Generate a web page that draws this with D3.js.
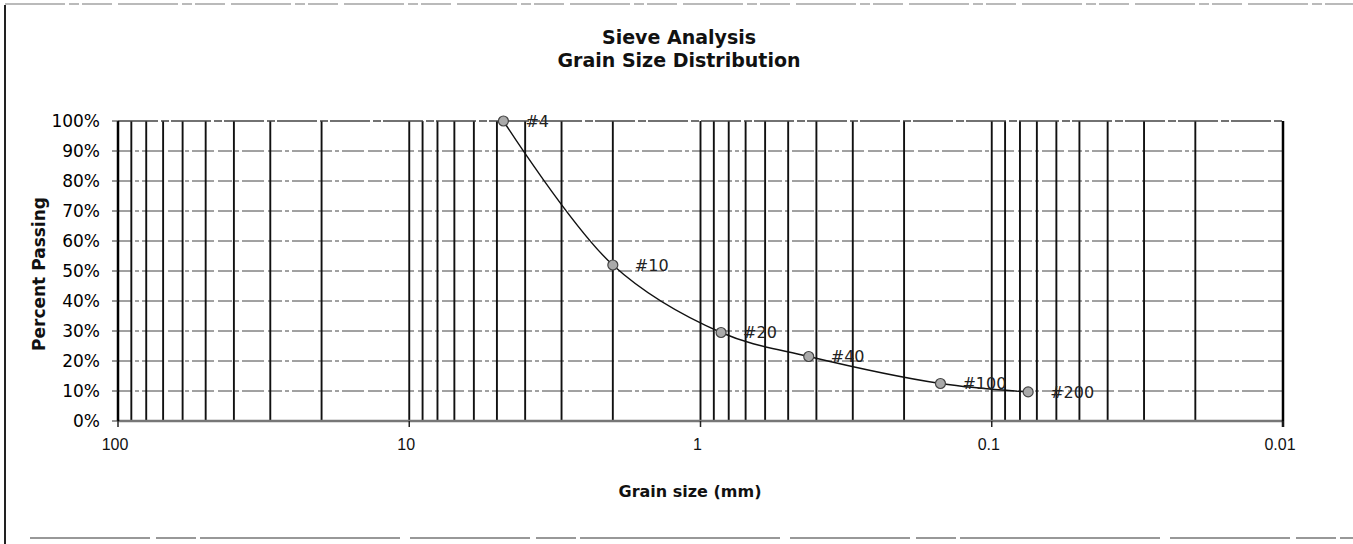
<!DOCTYPE html>
<html>
<head>
<meta charset="utf-8">
<script src="https://cdn.jsdelivr.net/npm/d3@7"></script>
<style>
  html, body { margin: 0; padding: 0; background: #fff; }
  svg { display: block; }
</style>
</head>
<body>
<svg id="chart" width="1353" height="544"></svg>
<script>
// ---- data ----
const sieves = ["#4", "#10", "#20", "#40", "#100", "#200"];
const grainSizes = [4.75, 2.0, 0.85, 0.425, 0.15, 0.075];
const percentPassing = [1.00, 0.52, 0.295, 0.215, 0.125, 0.097];
const xTickValues = [100, 10, 1, 0.1, 0.01];
const xTickLabels = ["100", "10", "1", "0.1", "0.01"];
const yTickValues = [0, 0.1, 0.2, 0.3, 0.4, 0.5, 0.6, 0.7, 0.8, 0.9, 1.0];
const titleLines = ["Sieve Analysis", "Grain Size Distribution"];
const xTitle = "Grain size (mm)";
const yTitle = "Percent Passing";

(function () {
// ---- layout ----
const svg = d3.select("#chart");
const pL = 118, pR = 1283, pT = 121, pB = 421;

const x = d3.scaleLog().domain([100, 0.01]).range([pL, pR]);
const y = d3.scaleLinear().domain([0, 1]).range([pB, pT]);

// outer frame (scanned page edges)
svg.append("line").attr("x1", 5).attr("x2", 5).attr("y1", 5).attr("y2", 544)
  .attr("stroke", "#222").attr("stroke-width", 2);
svg.append("line").attr("x1", 5).attr("x2", 1353).attr("y1", 4).attr("y2", 4)
  .attr("stroke", "#777").attr("stroke-width", 1.2).attr("stroke-dasharray", "60,4,10,3,30,6");
svg.append("line").attr("x1", 30).attr("x2", 1353).attr("y1", 538).attr("y2", 538)
  .attr("stroke", "#777").attr("stroke-width", 1.5).attr("stroke-dasharray", "120,6,40,4,200,10");

// horizontal gridlines (dashed)
svg.append("g").selectAll("line").data(yTickValues.filter(v => v > 0 && v < 1)).join("line")
  .attr("x1", pL).attr("x2", pR)
  .attr("y1", d => y(d)).attr("y2", d => y(d))
  .attr("stroke", "#444").attr("stroke-width", 1)
  .attr("stroke-dasharray", "14,3,4,3,22,4");

// vertical gridlines: all log minor/major values
const vGrid = x.ticks().filter(v => v > 0.01 && v < 100);
svg.append("g").selectAll("line").data(vGrid).join("line")
  .attr("x1", d => x(d)).attr("x2", d => x(d))
  .attr("y1", pT).attr("y2", pB)
  .attr("stroke", "#111").attr("stroke-width", 1.9);

// top line (100%)
svg.append("line").attr("x1", pL).attr("x2", pR).attr("y1", pT).attr("y2", pT)
  .attr("stroke", "#444").attr("stroke-width", 1.4).attr("stroke-dasharray", "40,3,8,2");
// bottom axis line (0%)
svg.append("line").attr("x1", pL).attr("x2", pR).attr("y1", pB).attr("y2", pB)
  .attr("stroke", "#777").attr("stroke-width", 2.5);
// left & right borders
svg.append("line").attr("x1", pL).attr("x2", pL).attr("y1", pT).attr("y2", pB)
  .attr("stroke", "#000").attr("stroke-width", 2.5);
svg.append("line").attr("x1", pR).attr("x2", pR).attr("y1", pT).attr("y2", pB + 6)
  .attr("stroke", "#000").attr("stroke-width", 2.5);

// y axis ticks & labels
const yAxis = svg.append("g");
yAxis.selectAll("line").data(yTickValues).join("line")
  .attr("x1", pL - 6).attr("x2", pL)
  .attr("y1", d => y(d)).attr("y2", d => y(d))
  .attr("stroke", "#333").attr("stroke-width", 1);
yAxis.selectAll("text").data(yTickValues).join("text")
  .attr("x", 100).attr("y", d => y(d)).attr("dy", "0.36em")
  .attr("text-anchor", "end")
  .attr("font-family", "DejaVu Sans, sans-serif").attr("font-size", 17)
  .attr("fill", "#000")
  .text(d3.format(".0%"));

// x axis ticks & labels
const xAxis = svg.append("g");
xAxis.selectAll("line").data(xTickValues).join("line")
  .attr("x1", d => x(d)).attr("x2", d => x(d))
  .attr("y1", pB).attr("y2", pB + 6)
  .attr("stroke", "#222").attr("stroke-width", 1.5);
xAxis.selectAll("text").data(xTickValues).join("text")
  .attr("x", d => x(d) - 3).attr("y", 450)
  .attr("text-anchor", "middle")
  .attr("font-family", "Liberation Sans, Arial, sans-serif").attr("font-size", 16)
  .attr("fill", "#111")
  .text((d, i) => xTickLabels[i]);

// titles (two lines)
svg.append("g").selectAll("text").data(titleLines).join("text")
  .attr("x", 679).attr("y", (d, i) => 44 + i * 22.5)
  .attr("text-anchor", "middle")
  .attr("font-family", "DejaVu Sans, sans-serif").attr("font-weight", "bold").attr("font-size", 19)
  .attr("fill", "#111")
  .text(d => d);

svg.append("text").attr("x", 690).attr("y", 497).attr("text-anchor", "middle")
  .attr("font-family", "DejaVu Sans, sans-serif").attr("font-weight", "bold").attr("font-size", 16)
  .attr("fill", "#111").text(xTitle);

svg.append("text")
  .attr("transform", `translate(45,${(pT + pB) / 2 + 3}) rotate(-90)`)
  .attr("text-anchor", "middle")
  .attr("font-family", "DejaVu Sans, sans-serif").attr("font-weight", "bold").attr("font-size", 17)
  .attr("fill", "#111").text(yTitle);

// data line
const pts = grainSizes.map((g, i) => [x(g), y(percentPassing[i])]);
svg.append("path")
  .attr("d", d3.line().curve(d3.curveCatmullRom.alpha(0.5))(pts))
  .attr("fill", "none").attr("stroke", "#111").attr("stroke-width", 1.4);

// markers
svg.append("g").selectAll("circle").data(pts).join("circle")
  .attr("cx", d => d[0]).attr("cy", d => d[1]).attr("r", 5)
  .attr("fill", "#aaa").attr("stroke", "#444").attr("stroke-width", 1.2);

// point labels
svg.append("g").selectAll("text").data(pts).join("text")
  .attr("x", d => d[0] + 22).attr("y", d => d[1]).attr("dy", "0.36em")
  .attr("font-family", "DejaVu Sans, sans-serif").attr("font-size", 16)
  .attr("fill", "#222")
  .text((d, i) => sieves[i]);
})();
</script>
</body>
</html>
